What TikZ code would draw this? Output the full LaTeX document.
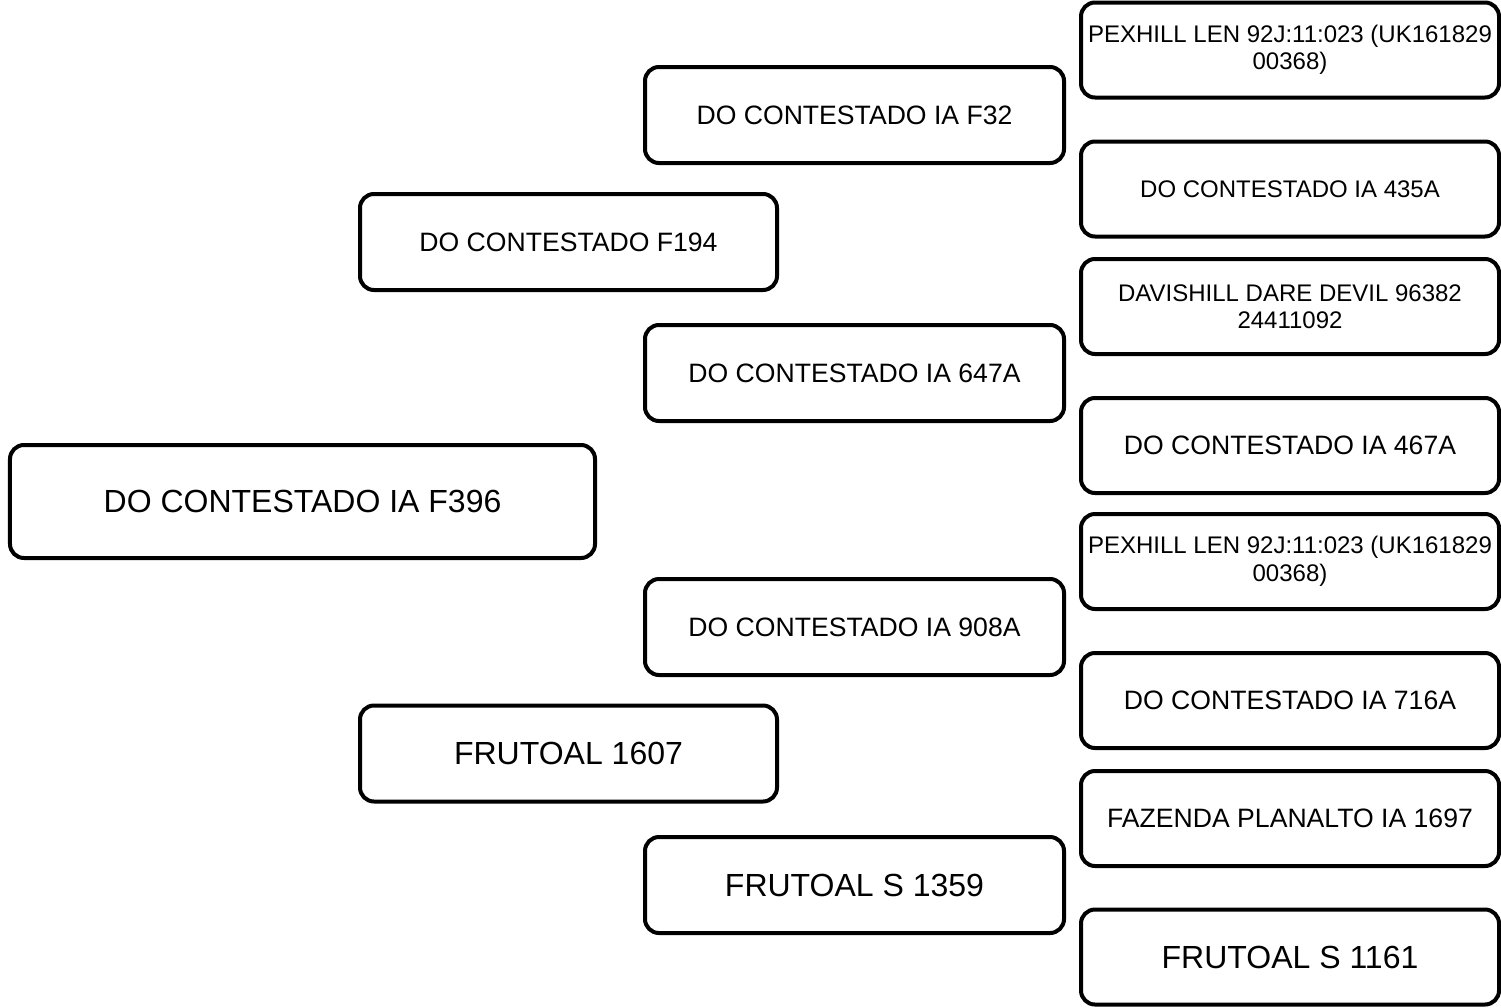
\documentclass[tikz,border=0pt]{standalone}
\usepackage{fontspec}
\setmainfont{Liberation Sans}
\usepackage{tikz}

\begin{document}
\begin{tikzpicture}[x=1bp,y=-1bp,
    boite/.style={draw=black, line width=4bp, rounded corners=14bp, fill=white, align=center, inner sep=0pt},
    grand/.style={font=\fontsize{32bp}{37bp}\selectfont},
    moyen/.style={font=\fontsize{26.6bp}{31bp}\selectfont},
    petit/.style={font=\fontsize{24bp}{27.5bp}\selectfont},
    gen0/.style={boite, minimum width=585bp, minimum height=113bp},
    gen1/.style={boite, minimum width=417bp, minimum height=96bp},
    gen2/.style={boite, minimum width=419bp, minimum height=96bp},
    gen3/.style={boite, minimum width=418bp, minimum height=95bp}]

    % Cadre de l'image
    \useasboundingbox (0,0) rectangle (1501,1007);

    % Animal
    \node[gen0, grand] (animal) at (302.5,501.5) {DO CONTESTADO IA F396};

    % Parents
    \node[gen1, moyen] (pere) at (568.5,242) {DO CONTESTADO F194};
    \node[gen1, grand] (mere) at (568.5,753.5) {FRUTOAL 1607};

    % Grands-parents
    \node[gen2, moyen] (pp) at (854.5,115) {DO CONTESTADO IA F32};
    \node[gen2, moyen] (pm) at (854.5,373) {DO CONTESTADO IA 647A};
    \node[gen2, moyen] (mp) at (854.5,627) {DO CONTESTADO IA 908A};
    \node[gen2, grand] (mm) at (854.5,885) {FRUTOAL S 1359};

    % Arrière-grands-parents
    \node[gen3, petit] (ppp) at (1290,50) {PEXHILL LEN 92J:11:023 (UK161829\\00368)};
    \node[gen3, petit] (ppm) at (1290,189) {DO CONTESTADO IA 435A};
    \node[gen3, petit] (pmp) at (1290,306.5) {DAVISHILL DARE DEVIL 96382\\24411092};
    \node[gen3, moyen] (pmm) at (1290,445.5) {DO CONTESTADO IA 467A};
    \node[gen3, petit] (mpp) at (1290,561.5) {PEXHILL LEN 92J:11:023 (UK161829\\00368)};
    \node[gen3, moyen] (mpm) at (1290,700.5) {DO CONTESTADO IA 716A};
    \node[gen3, moyen] (mmp) at (1290,818.5) {FAZENDA PLANALTO IA 1697};
    \node[gen3, grand] (mmm) at (1290,957) {FRUTOAL S 1161};
\end{tikzpicture}
\end{document}
